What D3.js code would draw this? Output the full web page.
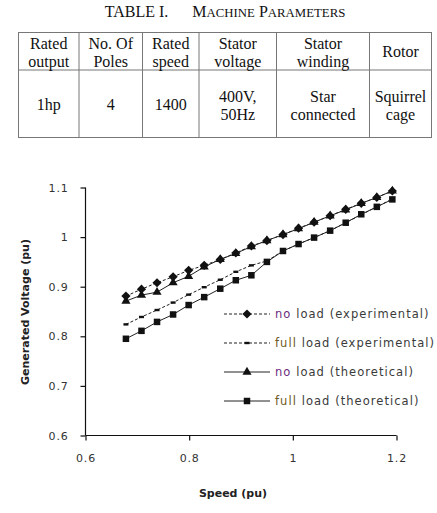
<!DOCTYPE html>
<html>
<head>
<meta charset="utf-8">
<script src="https://cdn.jsdelivr.net/npm/d3@7"></script>
<style>
  body { margin: 0; background: #fff; }
</style>
</head>
<body>
<div id="chart"></div>
<script>
// table contents
const tableHeaders = [["Rated", "output"], ["No. Of", "Poles"], ["Rated", "speed"], ["Stator", "voltage"], ["Stator", "winding"], ["Rotor"]];
const tableValues = [["1hp"], ["4"], ["1400"], ["400V,", "50Hz"], ["Star", "connected"], ["Squirrel", "cage"]];

// chart data
const speed = [0.678, 0.708, 0.738, 0.769, 0.799, 0.829, 0.860, 0.890, 0.920, 0.950, 0.981, 1.011, 1.041, 1.072, 1.102, 1.132, 1.162, 1.192];
const noLoadExp = [0.881, 0.895, 0.908, 0.920, 0.933, 0.943, 0.955, 0.968, 0.982, 0.993, 1.005, 1.018, 1.030, 1.043, 1.056, 1.068, 1.080, 1.093];
const fullLoadExp = [0.824, 0.839, 0.853, 0.868, 0.884, 0.899, 0.914, 0.930, 0.943, 0.952, 0.972, 0.986, 0.999, 1.013, 1.029, 1.045, 1.061, 1.077];
const noLoadTheo = [0.871, 0.883, 0.889, 0.908, 0.921, 0.940, 0.955, 0.967, 0.981, 0.993, 1.005, 1.017, 1.030, 1.043, 1.055, 1.068, 1.080, 1.093];
const fullLoadTheo = [0.795, 0.811, 0.829, 0.844, 0.863, 0.879, 0.896, 0.913, 0.923, 0.950, 0.972, 0.986, 0.999, 1.013, 1.029, 1.046, 1.061, 1.076];

const xTicks = [0.6, 0.8, 1, 1.2];
const yTicks = [0.6, 0.7, 0.8, 0.9, 1, 1.1];

const width = 437, height = 513;
const margin = ({top: 187.5, right: 40.5, bottom: 77.5, left: 85.5});

let svg = d3.select("#chart").append("svg")
    .attr("width", width).attr("height", height)
    .attr("viewBox", [0, 0, width, height]);

/* table */
const colEdges = [18.5, 79, 142.5, 199, 276.5, 369.5, 431.5];
const tTop = 32.5, tMid = 70, tBottom = 137.5;
const serif = "'Liberation Serif', 'Times New Roman', serif";

let title = svg.append("text")
    .attr("x", 225).attr("y", 17)
    .attr("text-anchor", "middle")
    .attr("font-family", serif).attr("font-size", 16)
    .attr("fill", "#111");
title.append("tspan").text("TABLE I.");
// hand-made small caps: first letter full size, rest smaller capitals
[["M", "ACHINE"], ["P", "ARAMETERS"]].forEach((w, i) => {
    title.append("tspan").attr("dx", i == 0 ? 24 : 4).text(w[0]);
    title.append("tspan").attr("font-size", 12.8).text(w[1]);
});

let tbl = svg.append("g").attr("stroke", "#777").attr("stroke-width", 1);
tbl.append("rect")
    .attr("x", colEdges[0]).attr("y", tTop)
    .attr("width", colEdges[6] - colEdges[0]).attr("height", tBottom - tTop)
    .attr("fill", "none");
tbl.append("line").attr("x1", colEdges[0]).attr("x2", colEdges[6]).attr("y1", tMid).attr("y2", tMid);
tbl.selectAll(".col").data(colEdges.slice(1, 6)).join("line")
    .attr("x1", d => d).attr("x2", d => d).attr("y1", tTop).attr("y2", tBottom);

const cellText = (rows, yFor) => {
    rows.forEach((lines, i) => {
        let cx = (colEdges[i] + colEdges[i + 1]) / 2;
        lines.forEach((s, j) => {
            svg.append("text")
                .attr("x", cx).attr("y", yFor(lines.length, j))
                .attr("text-anchor", "middle")
                .attr("font-family", serif).attr("font-size", 16)
                .attr("fill", "#111")
                .text(s);
        });
    });
};
cellText(tableHeaders, (n, j) => n == 1 ? 57 : 49 + j * 17.5);
cellText(tableValues, (n, j) => n == 1 ? 110 : 101.5 + j * 18);

/* chart */
let x = d3.scaleLinear().domain([0.6, 1.2]).range([margin.left, width - margin.right]);
let y = d3.scaleLinear().domain([0.6, 1.1]).range([height - margin.bottom, margin.top]);

const sans = "'DejaVu Sans', Verdana, sans-serif";

const xAxis = g => g
    .attr("transform", `translate(0, ${height - margin.bottom})`)
    .call(d3.axisBottom(x).tickValues(xTicks).tickSize(5).tickPadding(14).tickFormat(d3.format("")))
    .call(g => g.select(".domain").attr("d", `M${x(0.6)},0H${x(1.2)}`));

const yAxis = g => g
    .attr("transform", `translate(${margin.left}, 0)`)
    .call(d3.axisLeft(y).tickValues(yTicks).tickSize(5).tickPadding(12).tickFormat(d3.format("")))
    .call(g => g.select(".domain").attr("d", `M0,${y(1.1)}V${y(0.6)}`));

svg.append("g").call(xAxis);
svg.append("g").call(yAxis);
svg.selectAll(".tick text")
    .attr("font-family", sans).attr("font-size", 11)
    .attr("letter-spacing", 0.8).attr("fill", "#333");
svg.selectAll(".domain, .tick line").attr("stroke", "#111").attr("stroke-width", 1.2);

svg.append("text")
    .attr("x", (x(0.6) + x(1.2)) / 2 - 8).attr("y", 497)
    .attr("text-anchor", "middle")
    .attr("font-family", sans).attr("font-weight", "bold").attr("font-size", 11)
    .attr("fill", "#222")
    .text("Speed (pu)");

svg.append("text")
    .attr("transform", "translate(29, 312) rotate(-90)")
    .attr("text-anchor", "middle")
    .attr("font-family", sans).attr("font-weight", "bold").attr("font-size", 11)
    .attr("fill", "#222")
    .text("Generated Voltage (pu)");

const series = [
    {name: "full load (theoretical)", values: fullLoadTheo, dash: null, symbol: "square", size: 6.5},
    {name: "no load (theoretical)", values: noLoadTheo, dash: null, symbol: "triangle", size: 36},
    {name: "full load (experimental)", values: fullLoadExp, dash: "3,2", symbol: "bar", size: 0},
    {name: "no load (experimental)", values: noLoadExp, dash: "3,2", symbol: "diamond", size: 6.5}
];

const line = d3.line().x((d, i) => x(speed[i])).y(d => y(d));

const drawMarker = (g, s, cx, cy) => {
    if (s.symbol == "bar") {
        g.append("rect").attr("x", cx - 2.5).attr("y", cy - 1.2).attr("width", 5).attr("height", 2.4).attr("fill", "#111");
    } else if (s.symbol == "square") {
        g.append("rect").attr("x", cx - s.size / 2).attr("y", cy - s.size / 2)
            .attr("width", s.size).attr("height", s.size).attr("fill", "#111");
    } else if (s.symbol == "diamond") {
        g.append("rect").attr("x", -s.size / 2).attr("y", -s.size / 2)
            .attr("width", s.size).attr("height", s.size)
            .attr("transform", `translate(${cx},${cy}) rotate(45)`).attr("fill", "#111");
    } else {
        g.append("path")
            .attr("transform", `translate(${cx},${cy})`)
            .attr("d", d3.symbol().type(d3.symbolTriangle).size(s.size)())
            .attr("fill", "#111");
    }
};

for (let s of series) {
    let g = svg.append("g");
    g.append("path")
        .attr("d", line(s.values))
        .attr("fill", "none").attr("stroke", "#222").attr("stroke-width", 1)
        .attr("stroke-dasharray", s.dash);
    s.values.forEach((v, i) => drawMarker(g, s, x(speed[i]), y(v)));
}

/* legend */
const legendOrder = [series[3], series[2], series[1], series[0]];
const legendY = [314, 343, 372, 401];
legendOrder.forEach((s, i) => {
    let g = svg.append("g");
    let ly = legendY[i];
    g.append("line")
        .attr("x1", 224).attr("x2", 270).attr("y1", ly).attr("y2", ly)
        .attr("stroke", "#222").attr("stroke-width", 1)
        .attr("stroke-dasharray", s.dash);
    drawMarker(g, s, 247, ly);
    let words = s.name.split(" ");
    let t = g.append("text")
        .attr("x", 275).attr("y", ly + 4)
        .attr("font-family", sans).attr("font-size", 11.5)
        .attr("letter-spacing", 1.05).attr("fill", "#3a3a3a");
    t.append("tspan").attr("fill", words[0] == "no" ? "#6a2a7e" : "#6e5a22").text(words[0]);
    t.append("tspan").text(" " + words.slice(1).join(" "));
});
</script>
</body>
</html>
